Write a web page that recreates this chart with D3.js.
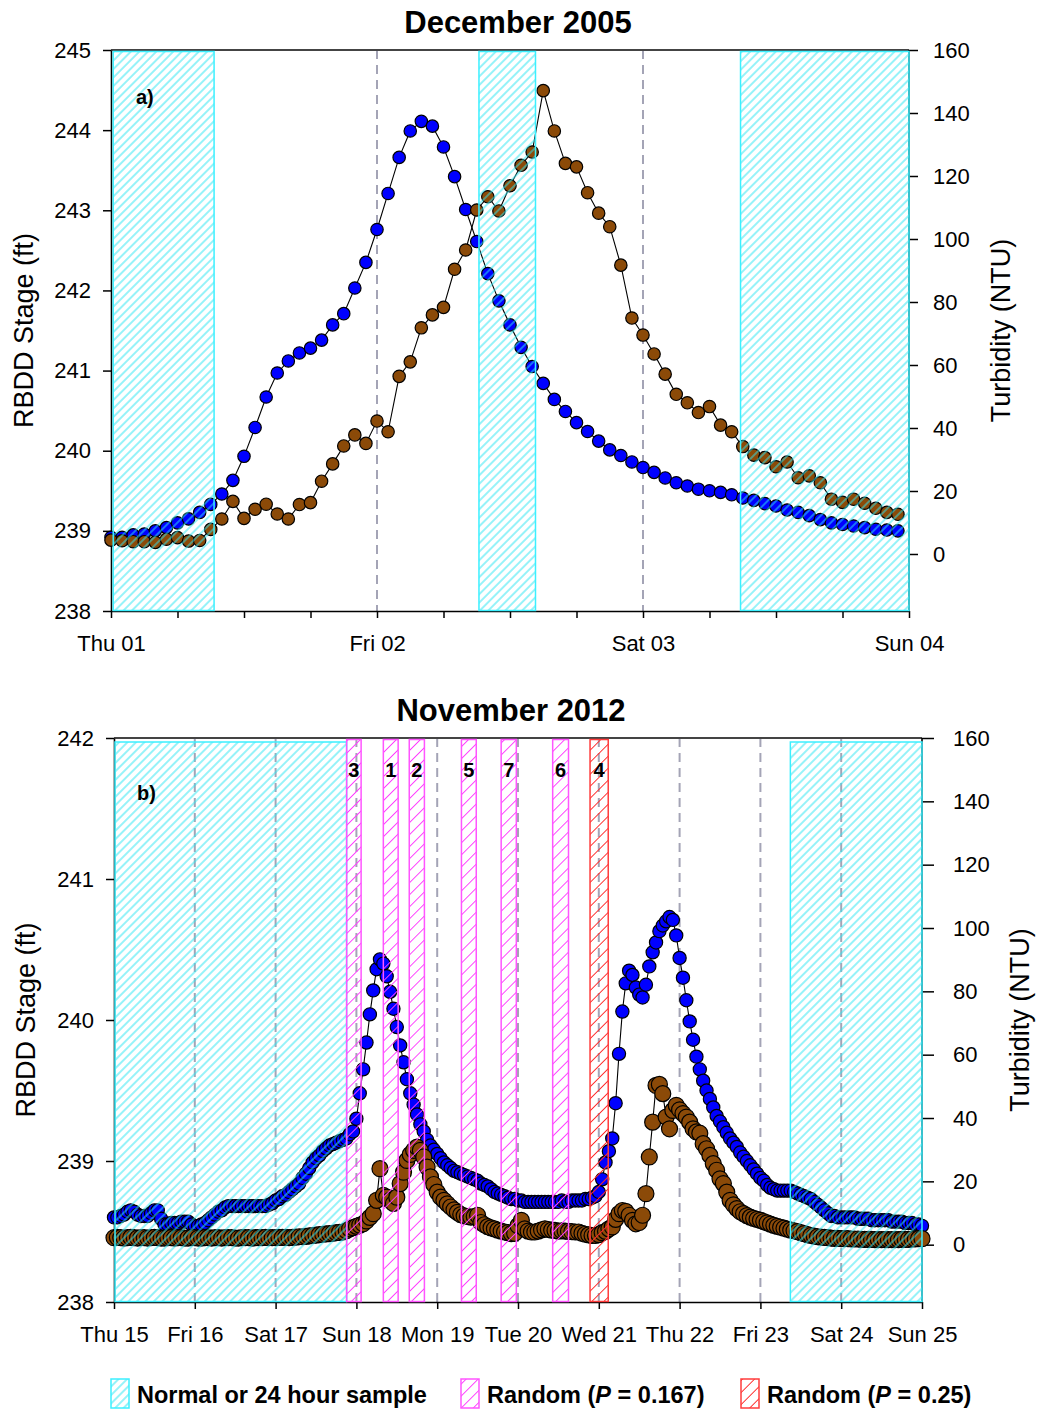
<!DOCTYPE html>
<html>
<head>
<meta charset="utf-8">
<script src="https://cdn.jsdelivr.net/npm/d3@7"></script>
<style>
  body { margin: 0; background: #fff; }
  svg text { font-family: "Liberation Sans", Arial, sans-serif; }
</style>
</head>
<body>
<div id="chart"></div>
<script>
'use strict';

// ---- data (hourly readings, index = hours since first midnight) ----
const decDays = ['Thu 01', 'Fri 02', 'Sat 03', 'Sun 04'];
const novDays = ['Thu 15', 'Fri 16', 'Sat 17', 'Sun 18', 'Mon 19', 'Tue 20',
  'Wed 21', 'Thu 22', 'Fri 23', 'Sat 24', 'Sun 25'];

const decStageTicks = [238, 239, 240, 241, 242, 243, 244, 245];
const novStageTicks = [238, 239, 240, 241, 242];
const turbTicks = [0, 20, 40, 60, 80, 100, 120, 140, 160];

const decStage = [
  238.92, 238.92, 238.95, 238.96, 239.00, 239.04, 239.10, 239.15, 239.23, 239.33,
  239.46, 239.63, 239.93, 240.29, 240.67, 240.97, 241.12, 241.22, 241.28, 241.38,
  241.57, 241.71, 242.03, 242.35, 242.76, 243.21, 243.66, 243.99, 244.11, 244.05,
  243.79, 243.42, 243.01, 242.61, 242.21, 241.87, 241.57, 241.29, 241.05, 240.84,
  240.64, 240.49, 240.35, 240.24, 240.12, 240.01, 239.94, 239.86, 239.79, 239.73,
  239.66, 239.60, 239.56, 239.52, 239.50, 239.48, 239.45, 239.41, 239.38, 239.34,
  239.31, 239.26, 239.23, 239.19, 239.14, 239.10, 239.08, 239.06, 239.04, 239.02,
  239.01, 239.00
];

const decTurb = [
  4.4, 4.2, 3.9, 3.9, 3.7, 4.7, 5.2, 4.1, 4.3, 7.8,
  11.1, 16.7, 11.3, 14.2, 15.8, 12.7, 11.1, 15.7, 16.3, 23.1,
  28.6, 34.3, 37.8, 35.1, 42.2, 38.8, 56.4, 61.0, 71.8, 75.9,
  78.3, 90.4, 96.5, 109.2, 113.4, 108.9, 116.9, 123.4, 127.6, 147.1,
  134.3, 124.0, 122.9, 114.7, 108.2, 103.9, 91.7, 74.9, 69.5, 63.5,
  57.1, 50.7, 48.0, 44.9, 46.8, 40.9, 38.8, 34.1, 31.4, 30.6,
  27.7, 29.2, 24.2, 24.8, 22.6, 17.4, 16.4, 17.4, 16.1, 14.5,
  13.2, 12.6
];

const novStage = [
  238.60, 238.60, 238.61, 238.62, 238.64, 238.65, 238.64, 238.62, 238.61, 238.61,
  238.61, 238.63, 238.65, 238.65, 238.59, 238.55, 238.55, 238.56, 238.56, 238.56,
  238.57, 238.57, 238.57, 238.55, 238.54, 238.54, 238.55, 238.56, 238.58, 238.60,
  238.62, 238.64, 238.65, 238.67, 238.68, 238.68, 238.68, 238.68, 238.68, 238.68,
  238.68, 238.68, 238.68, 238.68, 238.68, 238.68, 238.69, 238.70, 238.72, 238.73,
  238.75, 238.76, 238.78, 238.80, 238.82, 238.84, 238.88, 238.91, 238.95, 238.99,
  239.02, 239.04, 239.07, 239.09, 239.11, 239.12, 239.13, 239.14, 239.15, 239.16,
  239.19, 239.21, 239.30, 239.48, 239.65, 239.84, 240.04, 240.21, 240.36, 240.43,
  240.40, 240.31, 240.20, 240.08, 239.95, 239.82, 239.70, 239.58, 239.48, 239.40,
  239.33, 239.26, 239.21, 239.15, 239.11, 239.08, 239.05, 239.02, 238.99, 238.97,
  238.95, 238.93, 238.92, 238.91, 238.90, 238.89, 238.88, 238.87, 238.86, 238.84,
  238.83, 238.82, 238.80, 238.78, 238.77, 238.76, 238.75, 238.74, 238.73, 238.73,
  238.72, 238.72, 238.71, 238.71, 238.71, 238.71, 238.71, 238.71, 238.71, 238.71,
  238.71, 238.71, 238.71, 238.72, 238.71, 238.71, 238.72, 238.72, 238.72, 238.72,
  238.73, 238.73, 238.74, 238.75, 238.78, 238.87, 238.99, 239.07, 239.16, 239.41,
  239.76, 240.06, 240.26, 240.35, 240.32, 240.23, 240.18, 240.16, 240.25, 240.38,
  240.48, 240.55, 240.63, 240.67, 240.70, 240.73, 240.71, 240.60, 240.44, 240.30,
  240.14, 239.99, 239.86, 239.74, 239.65, 239.57, 239.50, 239.44, 239.38, 239.32,
  239.28, 239.24, 239.20, 239.16, 239.13, 239.10, 239.06, 239.03, 239.00, 238.97,
  238.94, 238.91, 238.88, 238.86, 238.83, 238.81, 238.80, 238.79, 238.79, 238.79,
  238.79, 238.79, 238.78, 238.77, 238.76, 238.75, 238.74, 238.73, 238.71, 238.69,
  238.67, 238.65, 238.63, 238.61, 238.61, 238.60, 238.60, 238.60, 238.60, 238.60,
  238.60, 238.59, 238.59, 238.59, 238.59, 238.58, 238.58, 238.58, 238.58, 238.58,
  238.58, 238.57, 238.57, 238.57, 238.57, 238.56, 238.56, 238.56, 238.55, 238.55,
  238.54
];

const novTurb = [
  2.2, 2.3, 2.2, 2.1, 2.2, 2.3, 2.2, 2.1, 2.2, 2.2,
  2.1, 2.2, 2.3, 2.2, 2.1, 2.1, 2.2, 2.2, 2.1, 2.2,
  2.2, 2.1, 2.1, 2.2, 2.2, 2.1, 2.1, 2.2, 2.2, 2.1,
  2.2, 2.2, 2.1, 2.2, 2.2, 2.2, 2.1, 2.1, 2.2, 2.2,
  2.2, 2.1, 2.2, 2.2, 2.2, 2.3, 2.2, 2.2, 2.2, 2.3,
  2.3, 2.3, 2.2, 2.3, 2.4, 2.5, 2.5, 2.6, 2.8, 2.9,
  3.0, 3.2, 3.3, 3.4, 3.5, 3.6, 3.8, 3.9, 4.0, 4.4,
  5.0, 5.4, 5.8, 6.2, 6.6, 7.5, 8.6, 9.8, 14.0, 24.0,
  15.6, 15.0, 14.0, 13.0, 15.0, 19.3, 22.9, 26.6, 28.5, 29.8,
  30.8, 29.8, 27.7, 24.5, 21.4, 19.0, 16.6, 15.0, 14.0, 12.9,
  11.9, 11.0, 10.2, 9.5, 9.1, 8.9, 8.7, 8.9, 9.3, 7.0,
  6.3, 5.7, 5.3, 5.0, 4.6, 4.3, 4.0, 3.8, 3.5, 3.6,
  6.0, 7.7, 5.0, 4.3, 4.0, 4.0, 4.3, 4.7, 5.0, 4.8,
  4.6, 4.5, 4.3, 4.4, 4.3, 4.2, 4.1, 4.0, 4.0, 3.6,
  3.3, 3.1, 2.9, 2.9, 3.2, 3.8, 4.2, 5.0, 5.6, 8.0,
  9.8, 10.8, 10.5, 9.3, 7.7, 6.6, 7.0, 9.3, 16.1, 27.7,
  38.7, 50.3, 50.6, 47.7, 40.3, 36.6, 42.4, 44.0, 42.6, 41.4,
  40.3, 38.7, 36.6, 35.6, 35.2, 31.9, 30.3, 28.2, 25.6, 23.5,
  20.8, 19.3, 16.6, 14.0, 12.6, 11.4, 10.4, 9.8, 9.2, 8.7,
  8.3, 8.0, 7.7, 7.3, 6.9, 6.5, 6.1, 5.8, 5.5, 5.2,
  4.9, 4.6, 4.4, 4.1, 3.8, 3.5, 3.2, 2.9, 2.7, 2.5,
  2.4, 2.3, 2.2, 2.1, 2.0, 2.0, 1.9, 1.9, 1.9, 1.8,
  1.8, 1.8, 1.7, 1.7, 1.7, 1.7, 1.6, 1.6, 1.6, 1.6,
  1.6, 1.6, 1.6, 1.6, 1.7, 1.7, 1.7, 1.8, 1.8, 1.9,
  1.9
];

// sampling windows, in hours
const decWindows = [
  {kind: 'normal', from: 0.2, to: 9.3},
  {kind: 'normal', from: 33.2, to: 38.3},
  {kind: 'normal', from: 56.8, to: 72}
];
const novWindows = [
  {kind: 'normal', from: 0.3, to: 69.1},
  {kind: 'normal', from: 200.9, to: 240},
  {kind: 'p167', from: 69.1, to: 73.4, label: '3'},
  {kind: 'p167', from: 80.0, to: 84.4, label: '1'},
  {kind: 'p167', from: 87.7, to: 92.2, label: '2'},
  {kind: 'p167', from: 103.2, to: 107.6, label: '5'},
  {kind: 'p167', from: 115.0, to: 119.5, label: '7'},
  {kind: 'p167', from: 130.3, to: 135.0, label: '6'},
  {kind: 'p25', from: 141.4, to: 146.8, label: '4'}
];

const legendItems = [
  {kind: 'normal', text: ['Normal or 24 hour sample']},
  {kind: 'p167', text: ['Random (', 'P', ' = 0.167)']},
  {kind: 'p25', text: ['Random (', 'P', ' = 0.25)']}
];

// ---- styles ----
const kinds = {
  normal: {line: '#2ee6f2', edge: '#3cf0ff', gap: 6},
  p167: {line: '#ff3cff', edge: '#ff55ff', gap: 8.5},
  p25: {line: '#ff2a2a', edge: '#ff3c3c', gap: 8.5}
};
const stageColor = '#0000ff';
const turbColor = '#8b4a08';

const svg = d3.select('#chart').append('svg')
  .attr('width', 1040)
  .attr('height', 1410);

const defs = svg.append('defs');
Object.keys(kinds).forEach((k) => {
  const g = kinds[k].gap;
  defs.append('pattern')
    .attr('id', 'hatch-' + k)
    .attr('patternUnits', 'userSpaceOnUse')
    .attr('width', g)
    .attr('height', g)
    .attr('patternTransform', 'rotate(45)')
    .append('line')
    .attr('x1', g / 2).attr('y1', 0)
    .attr('x2', g / 2).attr('y2', g)
    .attr('stroke', kinds[k].line)
    .attr('stroke-width', 1);
});

function drawPanel(p) {
  const x = d3.scaleLinear()
    .domain([0, (p.days.length - 1) * 24])
    .range([p.left, p.right]);
  const yL = d3.scaleLinear().domain(d3.extent(p.stageTicks)).range([p.bottom, p.top]);
  const yR = d3.scaleLinear().domain([-18.1, 160]).range([p.bottom, p.top]);
  const g = svg.append('g');

  // day separators
  const inner = d3.range(1, p.days.length - 1).map(d => d * 24);
  g.selectAll('.day-line')
    .data(inner)
    .enter().append('line')
    .attr('x1', d => x(d)).attr('x2', d => x(d))
    .attr('y1', p.top).attr('y2', p.bottom)
    .attr('stroke', '#a4a4b6')
    .attr('stroke-width', 2)
    .attr('stroke-dasharray', '9,6');

  // frame top
  g.append('line')
    .attr('x1', p.left).attr('x2', p.right)
    .attr('y1', p.top).attr('y2', p.top)
    .attr('stroke', '#444').attr('stroke-width', 2);

  // axes
  const axL = g.append('g')
    .attr('transform', `translate(${p.left},0)`)
    .call(d3.axisLeft(yL).tickValues(p.stageTicks).tickSize(8).tickSizeOuter(0)
      .tickPadding(12).tickFormat(d3.format('d')));
  const axR = g.append('g')
    .attr('transform', `translate(${p.right},0)`)
    .call(d3.axisRight(yR).tickValues(turbTicks).tickSize(p.rTick).tickSizeOuter(0)
      .tickPadding(p.rPad));
  const tickHours = d3.range(0, (p.days.length - 1) * 24 + 1, p.tickStep);
  const axB = g.append('g')
    .attr('transform', `translate(0,${p.bottom})`)
    .call(d3.axisBottom(x).tickValues(tickHours).tickSize(7).tickSizeOuter(0)
      .tickPadding(17).tickFormat(h => h % 24 === 0 ? p.days[h / 24] : ''));
  [axL, axR, axB].forEach((ax) => {
    ax.select('.domain').attr('stroke', '#000').attr('stroke-width', 1.6);
    ax.selectAll('.tick line').attr('stroke', '#000').attr('stroke-width', 1.5);
    ax.selectAll('text')
      .attr('font-family', '"Liberation Sans", Arial, sans-serif')
      .attr('font-size', 22)
      .attr('fill', '#000');
  });
  axR.select('.domain').attr('d', `M0,${p.top}V${p.bottom}`);

  // series: stage (left axis) then turbidity (right axis)
  const series = [
    {values: p.stage, y: yL, color: stageColor, r: p.rStage},
    {values: p.turb, y: yR, color: turbColor, r: p.rTurb}
  ];
  series.forEach((s) => {
    g.append('path')
      .datum(s.values)
      .attr('fill', 'none')
      .attr('stroke', '#000')
      .attr('stroke-width', 1.1)
      .attr('d', d3.line().x((d, i) => x(i)).y(d => s.y(d)));
    g.append('g').selectAll('circle')
      .data(s.values)
      .enter().append('circle')
      .attr('cx', (d, i) => x(i))
      .attr('cy', d => s.y(d))
      .attr('r', s.r)
      .attr('fill', s.color)
      .attr('stroke', '#000')
      .attr('stroke-width', 1.2);
  });

  // sampling windows on top of the data
  g.selectAll('.window')
    .data(p.windows)
    .enter().append('rect')
    .attr('x', d => x(d.from))
    .attr('y', d => p.top + (d.kind === 'normal' ? p.normalInset : 1.5))
    .attr('width', d => x(d.to) - x(d.from))
    .attr('height', d => p.bottom - p.top - (d.kind === 'normal' ? p.normalInset : 1.5) - 0.5)
    .attr('fill', d => `url(#hatch-${d.kind})`)
    .attr('stroke', d => kinds[d.kind].edge)
    .attr('stroke-width', 1.5);

  g.selectAll('.window-label')
    .data(p.windows.filter(d => d.label))
    .enter().append('text')
    .attr('x', d => x((d.from + d.to) / 2))
    .attr('y', p.top + 39)
    .attr('text-anchor', 'middle')
    .attr('font-size', 20)
    .attr('font-weight', 'bold')
    .text(d => d.label);

  // titles
  g.append('text')
    .attr('x', p.titleX).attr('y', p.titleY)
    .attr('text-anchor', 'middle')
    .attr('font-size', 31).attr('font-weight', 'bold')
    .text(p.title);
  g.append('text')
    .attr('x', p.tagX).attr('y', p.tagY)
    .attr('font-size', 20).attr('font-weight', 'bold')
    .text(p.tag);
  const midY = (p.top + p.bottom) / 2;
  g.append('text')
    .attr('transform', `translate(${p.leftTitleX},${midY}) rotate(-90)`)
    .attr('text-anchor', 'middle')
    .attr('font-size', 27)
    .text('RBDD Stage (ft)');
  g.append('text')
    .attr('transform', `translate(${p.rightTitleX},${midY}) rotate(-90)`)
    .attr('text-anchor', 'middle')
    .attr('font-size', 27)
    .text('Turbidity (NTU)');
}

drawPanel({
  title: 'December 2005', titleX: 518, titleY: 33,
  tag: 'a)', tagX: 136, tagY: 104,
  days: decDays, stage: decStage, turb: decTurb,
  stageTicks: decStageTicks, windows: decWindows,
  left: 111, right: 909, top: 50, bottom: 611,
  tickStep: 6, rTick: 9, rPad: 15, normalInset: 1.5,
  rStage: 6.2, rTurb: 6.2,
  leftTitleX: 33, rightTitleX: 1010
});

drawPanel({
  title: 'November 2012', titleX: 511, titleY: 721,
  tag: 'b)', tagX: 137, tagY: 800,
  days: novDays, stage: novStage, turb: novTurb,
  stageTicks: novStageTicks, windows: novWindows,
  left: 114, right: 922, top: 738, bottom: 1302,
  tickStep: 24, rTick: 12, rPad: 19, normalInset: 4,
  rStage: 6.6, rTurb: 8,
  leftTitleX: 35, rightTitleX: 1029
});

// legend
const legendX = [111, 461, 741];
const legend = svg.append('g');
legendItems.forEach((item, i) => {
  legend.append('rect')
    .attr('x', legendX[i]).attr('y', 1379)
    .attr('width', 18).attr('height', 29)
    .attr('fill', `url(#hatch-${item.kind})`)
    .attr('stroke', kinds[item.kind].edge)
    .attr('stroke-width', 1.5);
  const t = legend.append('text')
    .attr('x', legendX[i] + 26).attr('y', 1403)
    .attr('font-size', 23.5).attr('font-weight', 'bold');
  item.text.forEach((part, j) => {
    t.append('tspan')
      .attr('font-style', j === 1 ? 'italic' : 'normal')
      .text(part);
  });
});
</script>
</body>
</html>
